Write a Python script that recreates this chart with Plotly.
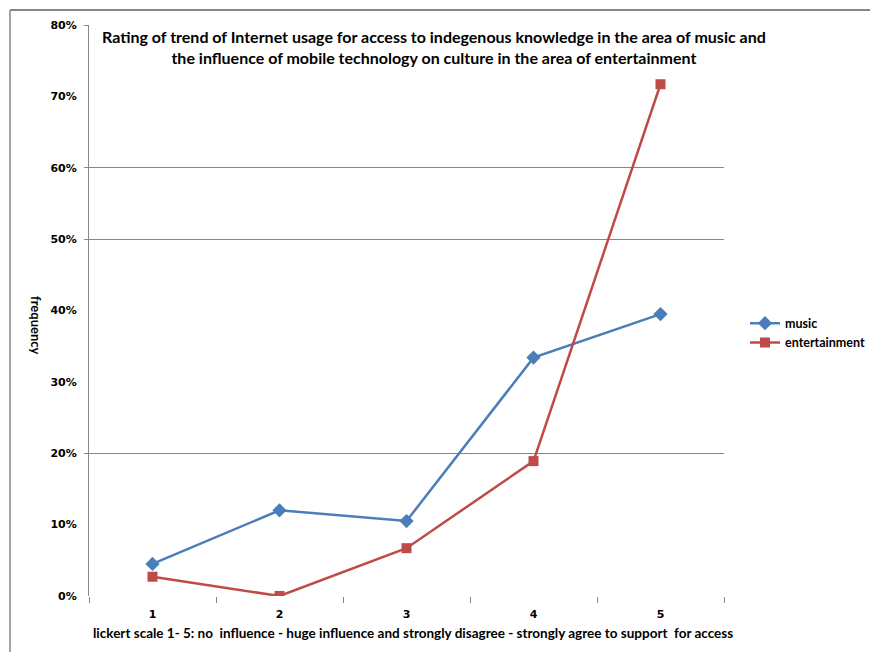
import plotly.graph_objects as go

# Likert scale categories and the share of responses per rating
categories = ["1", "2", "3", "4", "5"]
music = [0.045, 0.12, 0.105, 0.334, 0.395]
entertainment = [0.027, 0.0, 0.067, 0.189, 0.717]

y_ticks = [0, 0.1, 0.2, 0.3, 0.4, 0.5, 0.6, 0.7, 0.8]
grid_levels = [0.2, 0.5, 0.6, 0.8]

title_text = ("Rating of trend of Internet usage for access to indegenous knowledge in the area of music and"
              "<br>the influence of mobile technology on culture in the area of entertainment")
x_title = ("lickert scale 1- 5: no  influence - huge influence and strongly disagree - "
           "strongly agree to support  for access")
y_title = "frequency"

W, H = 870, 652
L, R, T, B = 89, 146, 25, 56
pw, ph = W - L - R, H - T - B

def px(x):
    return (x - L) / pw

def py(y):
    return (H - B - y) / ph

AXIS_GREY = "#868686"
TICK_FONT = dict(family="DejaVu Sans", size=11, color="#000000", weight="bold")
TEXT_FONT = "Lato"

fig = go.Figure()
fig.add_trace(go.Scatter(
    x=categories, y=music, name="music", mode="lines+markers",
    line=dict(color="#4A7EBB", width=2.5),
    marker=dict(symbol="diamond", size=11, color="#4A7EBB"),
))
fig.add_trace(go.Scatter(
    x=categories, y=entertainment, name="entertainment", mode="lines+markers",
    line=dict(color="#BE4B48", width=2.5),
    marker=dict(symbol="square", size=10, color="#BE4B48"),
))
# invisible helper trace so the secondary y axis (gridlines) is drawn
fig.add_trace(go.Scatter(x=categories, y=music, yaxis="y2", showlegend=False,
                         hoverinfo="skip", mode="markers", marker=dict(opacity=0)))

fig.update_layout(
    width=W, height=H,
    margin=dict(l=L, r=R, t=T, b=B, autoexpand=False),
    paper_bgcolor="white", plot_bgcolor="white",
    showlegend=True,
    legend=dict(x=px(745), y=py(333), xanchor="left", yanchor="middle",
                font=dict(family=TEXT_FONT, size=12.5, color="#000000", weight="bold"),
                itemwidth=30, tracegroupgap=4, bgcolor="rgba(0,0,0,0)"),
    xaxis=dict(type="category", range=[-0.5, 4.5], tickson="boundaries",
               ticks="outside", ticklen=6, tickcolor=AXIS_GREY,
               ticklabelstandoff=10,
               showgrid=False, showline=False, zeroline=False,
               tickfont=TICK_FONT),
    yaxis=dict(range=[0, 0.8], tickvals=y_ticks, tickformat=".0%",
               showgrid=False, zeroline=False, showline=True,
               linecolor=AXIS_GREY, linewidth=1, ticks="", ticklabelstandoff=9,
               tickfont=TICK_FONT),
    yaxis2=dict(range=[0, 0.8], overlaying="y", side="left", tickvals=grid_levels,
                showticklabels=False, showgrid=True, gridcolor=AXIS_GREY, gridwidth=1,
                ticks="outside", ticklen=4, tickcolor=AXIS_GREY,
                zeroline=False, showline=False),
)

# outer chart frame (top and left edges)
fig.add_shape(type="line", xref="paper", yref="paper",
              x0=px(10), x1=px(W + 5), y0=py(10), y1=py(10),
              line=dict(color=AXIS_GREY, width=2))
fig.add_shape(type="line", xref="paper", yref="paper",
              x0=px(10), x1=px(10), y0=py(10), y1=py(H + 5),
              line=dict(color=AXIS_GREY, width=1.5))

fig.add_annotation(text=f"<b>{title_text}</b>", xref="paper", yref="paper",
                   x=px(434), y=py(25), xanchor="center", yanchor="top",
                   showarrow=False, align="center",
                   font=dict(family=TEXT_FONT, size=16, color="#000000"))
fig.add_annotation(text=f"<b>{x_title}</b>", xref="paper", yref="paper",
                   x=px(413), y=py(633), xanchor="center", yanchor="middle",
                   showarrow=False,
                   font=dict(family=TEXT_FONT, size=13.5, color="#000000"))
fig.add_annotation(text=f"<b>{y_title}</b>", xref="paper", yref="paper",
                   x=px(36), y=py(325), xanchor="center", yanchor="middle",
                   showarrow=False, textangle=90,
                   font=dict(family=TEXT_FONT, size=13, color="#000000"))

fig.write_html("out.html")
